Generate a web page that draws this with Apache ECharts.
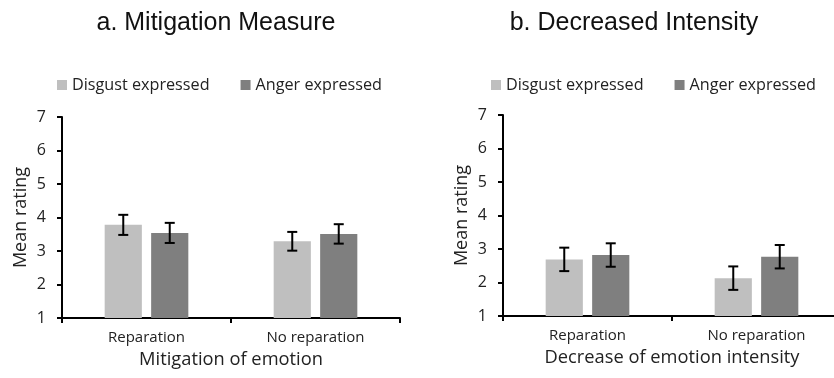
<!DOCTYPE html>
<html>
<head>
<meta charset="utf-8">
<script src="https://cdn.jsdelivr.net/npm/echarts@6/dist/echarts.min.js"></script>
<style>
html,body{margin:0;padding:0;background:#fff;}
#chart{width:834px;height:378px;}
</style>
</head>
<body>
<div id="chart"></div>
<script>
// ---- data ----
const categories = ['Reparation', 'No reparation'];
const seriesNames = ['Disgust expressed', 'Anger expressed'];
const yTicks = [1, 2, 3, 4, 5, 6, 7];

// a. Mitigation Measure
const mitigationDisgust = [3.78, 3.29];
const mitigationDisgustErr = [0.30, 0.28];
const mitigationAnger = [3.54, 3.51];
const mitigationAngerErr = [0.30, 0.29];

// b. Decreased Intensity
const intensityDisgust = [2.69, 2.13];
const intensityDisgustErr = [0.35, 0.35];
const intensityAnger = [2.82, 2.77];
const intensityAngerErr = [0.35, 0.35];

const titles = ['a. Mitigation Measure', 'b. Decreased Intensity'];
const xNames = ['Mitigation of emotion', 'Decrease of emotion intensity'];
const yName = 'Mean rating';

// ---- styles ----
const colors = ['#BFBFBF', '#7F7F7F'];
const BAR_W = 0.22, BAR_GAP = 0.25;
const labelFont = 'Open Sans, sans-serif';

function errData(vals, errs) {
  return vals.map((v, i) => [i, v - errs[i], v + errs[i]]);
}

function errSeries(name, gridIdx, data, sign) {
  return {
    type: 'custom', name: name, xAxisIndex: gridIdx, yAxisIndex: gridIdx,
    data: data, encode: { x: 0, y: [1, 2] }, z: 10, silent: true,
    renderItem: function (params, api) {
      const band = api.size([1, 0])[0];
      const bw = band * BAR_W;
      const off = sign * bw * (1 + BAR_GAP) / 2;
      const c = api.value(0);
      const lo = api.coord([c, api.value(1)]);
      const hi = api.coord([c, api.value(2)]);
      const x = lo[0] + off;
      const cap = 5;
      const st = { stroke: '#000', lineWidth: 2 };
      return {
        type: 'group',
        children: [
          { type: 'line', shape: { x1: x, y1: lo[1], x2: x, y2: hi[1] }, style: st },
          { type: 'line', shape: { x1: x - cap, y1: lo[1], x2: x + cap, y2: lo[1] }, style: st },
          { type: 'line', shape: { x1: x - cap, y1: hi[1], x2: x + cap, y2: hi[1] }, style: st }
        ]
      };
    }
  };
}

function barSeries(name, gridIdx, data, color) {
  return {
    type: 'bar', name: name, xAxisIndex: gridIdx, yAxisIndex: gridIdx,
    data: data, barWidth: (BAR_W * 100) + '%', barGap: (BAR_GAP * 100) + '%',
    itemStyle: { color: color }, silent: true
  };
}

function xAxis(gridIdx) {
  return {
    type: 'category', gridIndex: gridIdx, data: categories,
    boundaryGap: true,
    axisLine: { show: true, lineStyle: { color: '#000', width: 2 } },
    axisTick: { show: true, length: 5, interval: 0, lineStyle: { color: '#000', width: 2 } },
    axisLabel: { fontFamily: labelFont, fontSize: 15, color: '#222', margin: 12 },
    name: xNames[gridIdx], nameLocation: 'middle', nameGap: 33,
    nameTextStyle: { fontFamily: labelFont, fontSize: 18.3, color: '#222' }
  };
}

function yAxis(gridIdx) {
  return {
    type: 'value', gridIndex: gridIdx, min: yTicks[0], max: yTicks[yTicks.length - 1], interval: 1,
    axisLine: { show: true, lineStyle: { color: '#000', width: 2 } },
    axisTick: { show: true, length: 5, lineStyle: { color: '#000', width: 2 } },
    axisLabel: { fontFamily: labelFont, fontSize: 16, color: '#222', margin: 16 },
    splitLine: { show: false },
    name: yName, nameLocation: 'middle', nameGap: 32, nameRotate: 90,
    nameTextStyle: { fontFamily: labelFont, fontSize: 18, color: '#222' }
  };
}

const legendBase = {
  data: seriesNames, icon: 'rect', itemWidth: 10, itemHeight: 10, itemGap: 31, padding: 0,
  textStyle: { fontFamily: labelFont, fontSize: 16.2, color: '#222' }, selectedMode: false
};

const titleStyle = { fontFamily: 'Liberation Sans, Arial, sans-serif', fontSize: 25, fontWeight: 'normal', color: '#111' };

const option = {
  backgroundColor: '#fff',
  animation: false,
  title: [
    { text: titles[0], left: 211, top: 6, textAlign: 'center', textStyle: titleStyle },
    { text: titles[1], left: 629, top: 6, textAlign: 'center', textStyle: titleStyle }
  ],
  legend: [
    Object.assign({}, legendBase, { left: 57, top: 77 }),
    Object.assign({}, legendBase, { left: 491, top: 77 })
  ],
  grid: [
    { left: 62, top: 117, width: 338, height: 201, containLabel: false, outerBoundsMode: 'none' },
    { left: 503, top: 115, width: 338, height: 201, containLabel: false, outerBoundsMode: 'none' }
  ],
  xAxis: [xAxis(0), xAxis(1)],
  yAxis: [yAxis(0), yAxis(1)],
  series: [
    barSeries(seriesNames[0], 0, mitigationDisgust, colors[0]),
    barSeries(seriesNames[1], 0, mitigationAnger, colors[1]),
    barSeries(seriesNames[0], 1, intensityDisgust, colors[0]),
    barSeries(seriesNames[1], 1, intensityAnger, colors[1]),
    errSeries(seriesNames[0], 0, errData(mitigationDisgust, mitigationDisgustErr), -1),
    errSeries(seriesNames[1], 0, errData(mitigationAnger, mitigationAngerErr), 1),
    errSeries(seriesNames[0], 1, errData(intensityDisgust, intensityDisgustErr), -1),
    errSeries(seriesNames[1], 1, errData(intensityAnger, intensityAngerErr), 1)
  ]
};

const chart = echarts.init(document.getElementById('chart'), null, { renderer: 'canvas' });
chart.setOption(option);
</script>
</body>
</html>
